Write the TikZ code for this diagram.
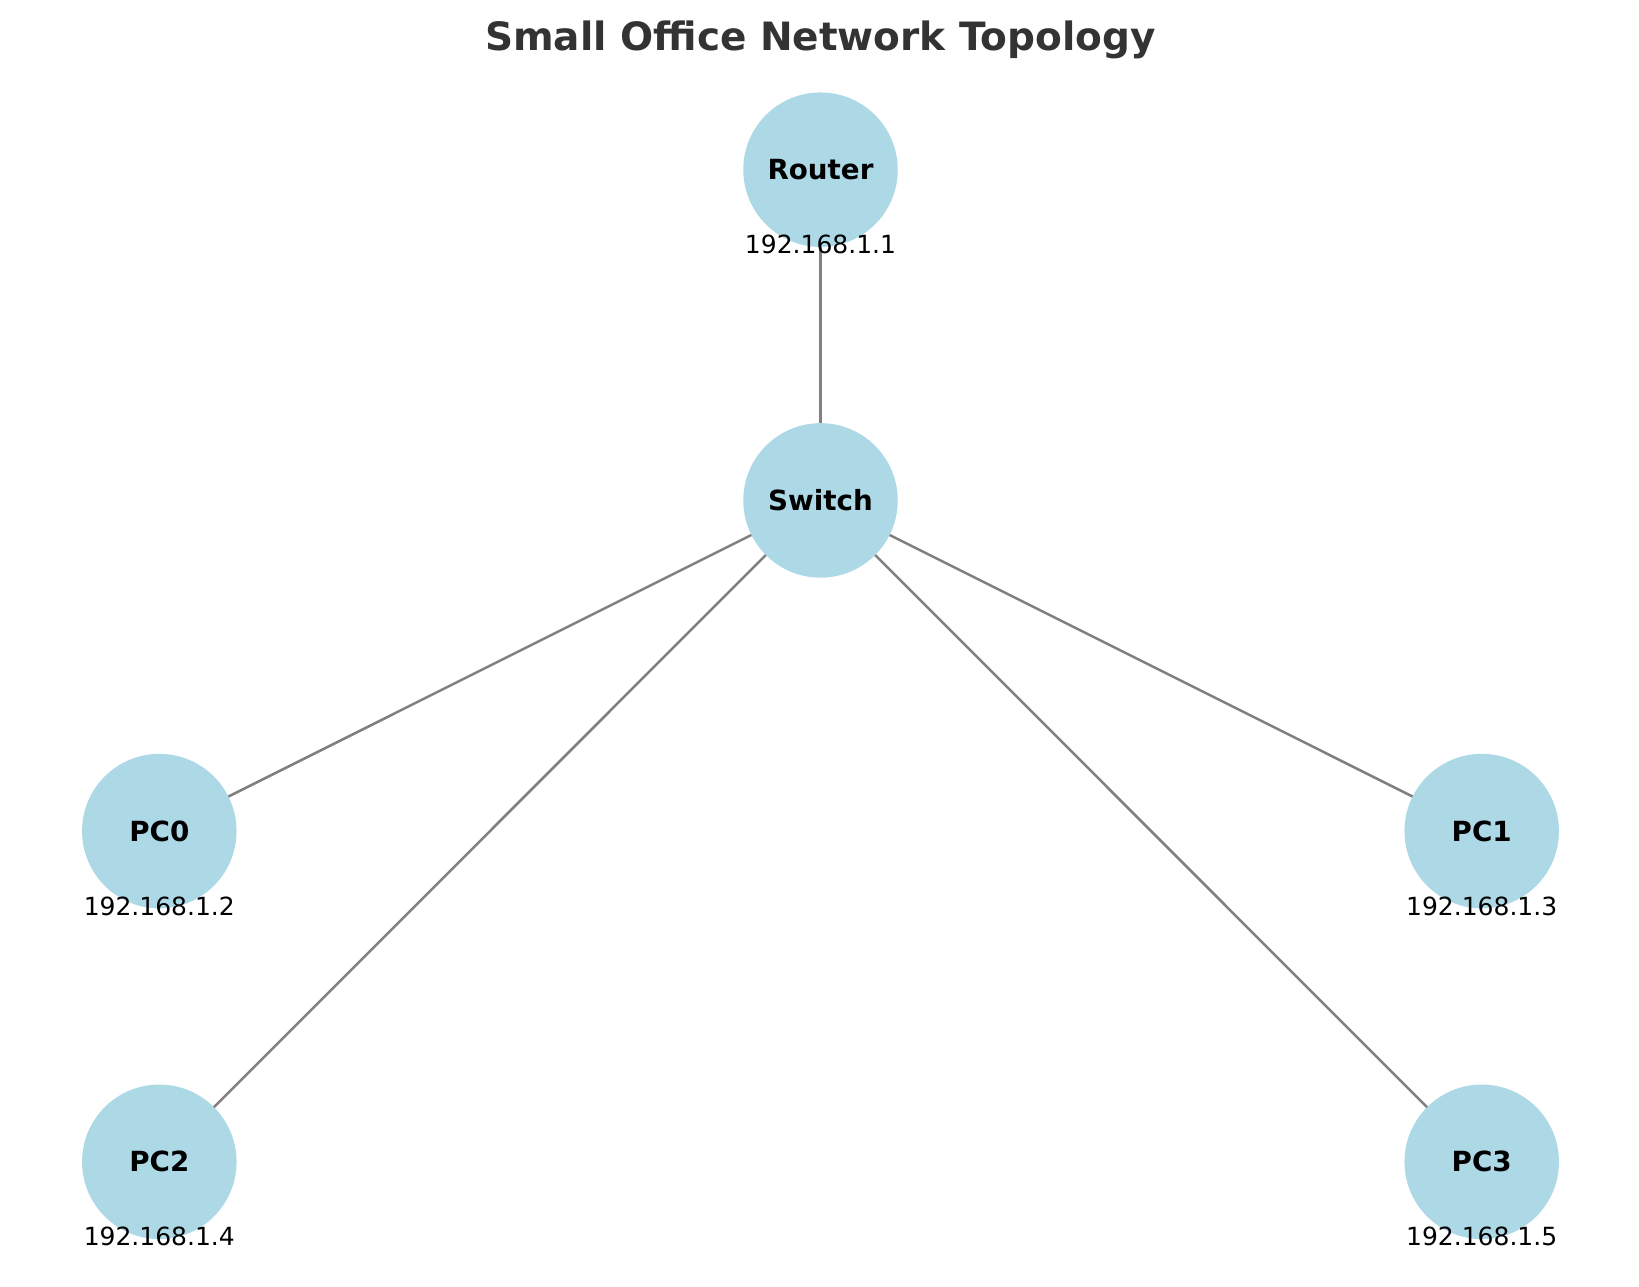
\documentclass[tikz,border=0pt]{standalone}
\usepackage{fontspec}
\setmainfont{DejaVu Sans}
\definecolor{lightblue}{HTML}{ADD8E6}
\definecolor{edgegray}{HTML}{808080}
\definecolor{titlegray}{HTML}{333333}

\begin{document}
\begin{tikzpicture}
  [x=0.4pt,y=-0.4pt]
      \tikzstyle{host_style} = [circle, fill=lightblue, minimum size=61.8pt, inner sep=0pt, font=\fontsize{11.1}{13}\selectfont\bfseries]
      \tikzstyle{edge_style} = [draw=edgegray, line width=1pt]
      \tikzstyle{ip_style} = [anchor=base, inner sep=0pt, font=\fontsize{10}{12}\selectfont]
  \useasboundingbox (0,0) rectangle (1639,1286);
  \node[anchor=base, font=\fontsize{15.6}{18}\selectfont\bfseries, text=titlegray] (title) at (820.5,50) {Small Office Network Topology};
  \coordinate (c_router) at (820.5,169.7);
  \coordinate (c_switch) at (820.5,500.4);
  \coordinate (c_pc0) at (159.3,831.1);
  \coordinate (c_pc1) at (1481.7,831.1);
  \coordinate (c_pc2) at (159.3,1161.8);
  \coordinate (c_pc3) at (1481.7,1161.8);
  \draw[edge_style] (c_router) -- (c_switch);
  \draw[edge_style] (c_switch) -- (c_pc0);
  \draw[edge_style] (c_switch) -- (c_pc1);
  \draw[edge_style] (c_switch) -- (c_pc2);
  \draw[edge_style] (c_switch) -- (c_pc3);
  \node[host_style] (router) at (c_router) {Router};
  \node[host_style] (switch) at (c_switch) {Switch};
  \node[host_style] (pc0) at (c_pc0) {PC0};
  \node[host_style] (pc1) at (c_pc1) {PC1};
  \node[host_style] (pc2) at (c_pc2) {PC2};
  \node[host_style] (pc3) at (c_pc3) {PC3};
  \node[ip_style] (ip_router) at ([yshift=-33.6pt]router.center) {192.168.1.1};
  \node[ip_style] (ip_pc0) at ([yshift=-33.6pt]pc0.center) {192.168.1.2};
  \node[ip_style] (ip_pc1) at ([yshift=-33.6pt]pc1.center) {192.168.1.3};
  \node[ip_style] (ip_pc2) at ([yshift=-33.6pt]pc2.center) {192.168.1.4};
  \node[ip_style] (ip_pc3) at ([yshift=-33.6pt]pc3.center) {192.168.1.5};
\end{tikzpicture}
\end{document}
